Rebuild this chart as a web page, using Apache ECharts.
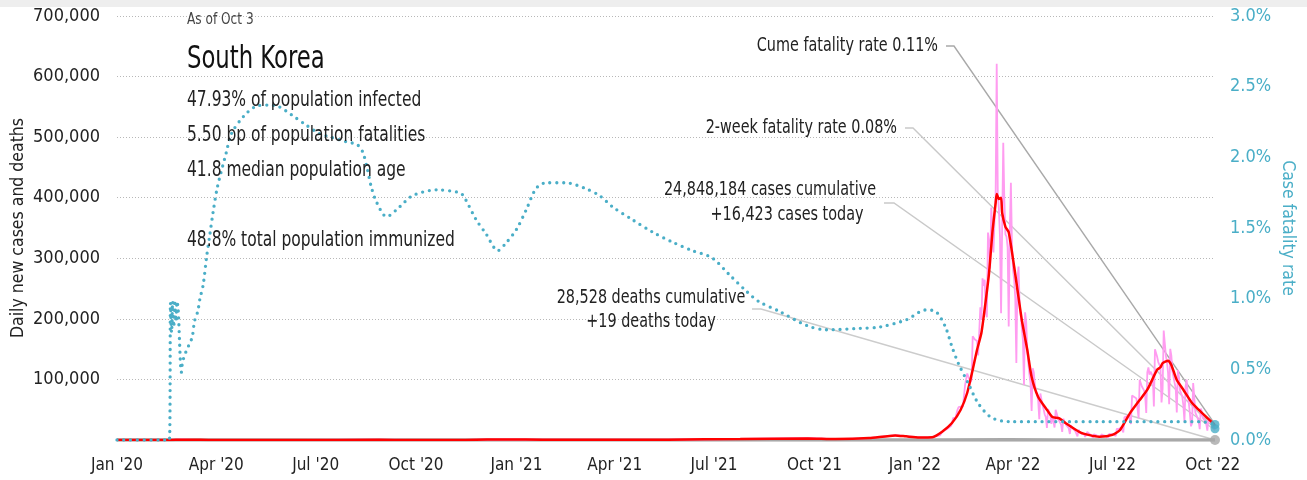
<!DOCTYPE html>
<html>
<head>
<meta charset="utf-8">
<script src="https://cdn.jsdelivr.net/npm/echarts@6/dist/echarts.min.js"></script>
<style>
  html, body { margin: 0; padding: 0; background: #ffffff; }
  #chart { width: 1307px; height: 480px; }
</style>
</head>
<body>
<div id="chart"></div>
<script>
// ---- Headline figures ----
const asOfText = 'As of Oct 3';
const countryName = 'South Korea';
const statLines = [
  '47.93% of population infected',
  '5.50 bp of population fatalities',
  '41.8 median population age'
];
const immunizedLine = '48.8% total population immunized';
const cumeFatalityRate = 0.11;     // %
const twoWeekFatalityRate = 0.08;  // %
const casesCumulative = 24848184;
const casesToday = 16423;
const deathsCumulative = 28528;
const deathsToday = 19;
const firstDate = '2020-01-01';
const lastDate = '2022-10-03';

// ---- Axis ticks ----
const xTickDates = ['2020-01-01','2020-04-01','2020-07-01','2020-10-01','2021-01-01','2021-04-01',
  '2021-07-01','2021-10-01','2022-01-01','2022-04-01','2022-07-01','2022-10-01'];
const xTickLabels = ["Jan '20","Apr '20","Jul '20","Oct '20","Jan '21","Apr '21",
  "Jul '21","Oct '21","Jan '22","Apr '22","Jul '22","Oct '22"];
const casesAxisMax = 700000, casesAxisStep = 100000;
const rateAxisMax = 3, rateAxisStep = 0.5;

// ---- Daily new cases: sparse readings before the Omicron wave ----
const dailyCasesEarly = [
  ['2020-01-01',0],['2020-02-18',0],['2020-03-01',800],['2020-03-12',110],['2020-04-10',30],
  ['2020-06-15',45],['2020-08-27',440],['2020-09-25',60],['2020-11-15',200],['2020-12-25',1240],
  ['2021-01-25',390],['2021-03-20',460],['2021-05-20',650],['2021-07-25',1630],['2021-09-25',3270],
  ['2021-10-20',1570],['2021-11-20',3200],['2021-12-14',7850],['2021-12-24',6230],['2022-01-05',4440],
  ['2022-01-17',4200]
];
// ---- Daily new cases, one value per day from 2022-01-20 ----
const dailyCasesStart = '2022-01-20';
const dailyCases2022 = [
  // Jan 20-31
  6603, 6767, 7009, 7630, 7513, 8571, 13012, 14518, 16096, 17542, 17529, 18342,
  // Feb
  20270, 20043, 22907, 27443, 36362, 38689, 35286, 36719, 49567, 54122, 53926, 54941, 53126, 54619,
  57177, 90443, 93135, 109831, 104829, 102211, 95362, 99573, 171452, 170016, 165890, 166209, 163565, 139626,
  // Mar
  138993, 219241, 198803, 266853, 254327, 264619, 210716, 202721, 342446, 327549, 282987, 383665, 350190,
  309790, 362338, 400741, 621328, 407017, 381454, 334708, 209169, 353980, 490881, 395598, 339514, 335580,
  318130, 187213, 347554, 424641, 320743,
  // Apr
  280273, 264171, 234301, 127190, 266135, 286294, 224820, 205333, 185566, 164481, 90928, 210755, 195419,
  148443, 125846, 107916, 93001, 47743, 118504, 111319, 90867, 81058, 75449, 64725, 34370, 76787, 76497,
  57464, 50568, 42140,
  // May
  37771, 20087, 51131, 49064, 42296, 26714, 40064, 38000, 20601, 49933, 43925, 35906, 32451, 29581, 25434,
  13296, 35117, 31323, 28130, 23956, 22575, 19298, 9975, 23947, 20914, 18454, 16581, 14426, 12530, 6141, 17191,
  // Jun
  13358, 12538, 9898, 12047, 9834, 5022, 7198, 13358, 12155, 10152, 9435, 7382, 3828, 9437, 9427, 7993,
  7206, 6068, 5357, 3570, 9296, 9914, 7498, 7220, 6789, 6243, 3423, 9894, 10463, 9528,
  // Jul
  10715, 10059, 9528, 6253, 18147, 19371, 18511, 19323, 20410, 20342, 12693, 37360, 40266, 39196, 38882,
  41310, 40342, 26299, 73589, 76402, 71170, 68632, 68551, 65433, 35883, 99327, 100285, 88384, 85285, 82002, 73589,
  // Aug
  44689, 111789, 119922, 107894, 112901, 110666, 105507, 55292, 149897, 151792, 137241, 128714, 124592,
  119922, 62078, 84128, 180803, 178574, 138812, 128714, 110423, 59046, 150503, 139339, 113371, 103961,
  94307, 85295, 45488, 115616, 103961,
  // Sep
  81573, 80441, 72139, 57309, 30967, 87559, 99837, 75640, 61038, 44054, 22606, 28213, 93981, 71476, 45313,
  43696, 36504, 31443, 17750, 51874, 46532, 35938, 32911, 30922, 26143, 15532, 36179, 37338, 30174, 27046,
  // Oct 1-3
  24104, 20875, 16423
];

// ---- 7-day average of new cases ----
const avgCases = [
  ['2020-01-01',0],['2020-02-18',0],['2020-03-01',560],['2020-03-10',350],['2020-03-25',100],
  ['2020-05-01',10],['2020-06-15',45],['2020-08-28',330],['2020-09-25',80],['2020-11-15',200],
  ['2020-12-25',1030],['2021-01-25',420],['2021-03-20',440],['2021-05-20',600],['2021-07-25',1550],
  ['2021-09-25',2600],['2021-10-20',1500],['2021-11-20',3100],['2021-12-14',7600],['2021-12-24',6000],
  ['2022-01-05',4200],['2022-01-17',4600],['2022-01-26',13700],['2022-02-04',28000],['2022-02-12',50000],
  ['2022-02-18',78000],['2022-02-23',116000],['2022-02-27',149000],['2022-03-03',177000],['2022-03-07',231000],
  ['2022-03-10',276000],['2022-03-13',342000],['2022-03-16',391000],['2022-03-17',406000],['2022-03-19',398000],
  ['2022-03-21',400000],['2022-03-22',375000],['2022-03-25',352000],['2022-03-28',343000],['2022-04-02',286000],
  ['2022-04-05',248000],['2022-04-09',198000],['2022-04-14',149000],['2022-04-18',104000],['2022-04-24',71000],
  ['2022-05-02',50000],['2022-05-07',38000],['2022-05-13',36000],['2022-05-19',28000],['2022-06-01',13000],
  ['2022-06-10',8000],['2022-06-19',5500],['2022-07-01',8500],['2022-07-08',16500],['2022-07-17',44000],
  ['2022-07-26',66000],['2022-08-02',83000],['2022-08-11',116000],['2022-08-14',120000],['2022-08-16',127000],
  ['2022-08-21',131000],['2022-08-24',124000],['2022-08-29',99000],['2022-09-04',83000],['2022-09-12',61000],
  ['2022-09-18',50000],['2022-09-25',38000],['2022-10-01',28000],['2022-10-03',23000]
];

// ---- 7-day average of deaths ----
const avgDeaths = [
  ['2020-01-01',0],['2020-03-20',6],['2020-09-05',4],['2020-12-28',25],['2021-03-01',8],['2021-07-01',2],
  ['2021-12-22',75],['2022-01-20',25],['2022-03-28',340],['2022-05-10',40],['2022-07-05',12],
  ['2022-08-28',70],['2022-10-02',25],['2022-10-03',19]
];

// ---- Cumulative case fatality rate, % ----
const fatalityRate = [
  ['2020-01-01',0],['2020-02-18',0],['2020-02-19',0.97],['2020-02-20',0.76],['2020-02-21',0.98],
  ['2020-02-22',0.80],['2020-02-23',0.99],['2020-02-24',0.84],['2020-02-25',0.98],['2020-02-26',0.93],
  ['2020-02-29',0.48],['2020-03-01',0.55],['2020-03-03',0.60],['2020-03-05',0.64],['2020-03-08',0.69],
  ['2020-03-10',0.73],['2020-03-12',0.84],['2020-03-15',0.91],['2020-03-17',1.00],['2020-03-20',1.10],
  ['2020-03-23',1.29],['2020-03-26',1.45],['2020-03-29',1.61],['2020-04-02',1.79],['2020-04-10',2.03],
  ['2020-04-15',2.17],['2020-04-26',2.29],['2020-05-07',2.36],['2020-05-19',2.37],['2020-05-28',2.36],
  ['2020-06-09',2.30],['2020-06-22',2.23],['2020-07-04',2.17],['2020-07-16',2.14],['2020-07-29',2.11],
  ['2020-08-08',2.09],['2020-08-13',2.04],['2020-08-17',1.93],['2020-08-21',1.79],['2020-08-26',1.68],
  ['2020-09-04',1.58],['2020-09-16',1.65],['2020-09-28',1.73],['2020-10-20',1.77],['2020-11-10',1.75],
  ['2020-11-14',1.72],['2020-11-25',1.56],['2020-12-04',1.46],['2020-12-15',1.34],['2020-12-22',1.39],
  ['2021-01-01',1.49],['2021-01-10',1.63],['2021-01-19',1.78],['2021-01-28',1.82],['2021-02-15',1.82],
  ['2021-03-05',1.78],['2021-03-18',1.73],['2021-03-30',1.65],['2021-04-17',1.56],['2021-05-06',1.47],
  ['2021-05-24',1.40],['2021-06-11',1.34],['2021-06-29',1.29],['2021-07-15',1.17],['2021-07-31',1.05],
  ['2021-08-11',0.98],['2021-08-30',0.91],['2021-09-24',0.81],['2021-10-12',0.78],['2021-11-11',0.79],
  ['2021-11-30',0.80],['2021-12-24',0.85],['2022-01-11',0.92],['2022-01-20',0.91],['2022-01-29',0.80],
  ['2022-02-04',0.66],['2022-02-10',0.54],['2022-02-19',0.40],['2022-02-28',0.26],['2022-03-12',0.16],
  ['2022-03-28',0.13],['2022-06-20',0.13],['2022-09-20',0.13],['2022-10-03',0.11]
];

// ---- Styling ----
const FONT = "'DejaVu Sans Condensed', 'DejaVu Sans', sans-serif";
const TEXT = '#222222';
const TEAL = '#4aaec7';
const GRID_L = 117, GRID_R = 92, GRID_T = 16, GRID_B = 40;

// local-time timestamp from YYYY-MM-DD
function ts(s) {
  const p = s.split('-').map(Number);
  return new Date(p[0], p[1] - 1, p[2]).getTime();
}
function addDays(s, n) {
  const p = s.split('-').map(Number);
  return new Date(p[0], p[1] - 1, p[2] + n).getTime();
}
const xTickTimes = xTickDates.map(ts);

const dailyCasesSeries = dailyCasesEarly.map(d => [ts(d[0]), d[1]])
  .concat(dailyCases2022.map((v, i) => [addDays(dailyCasesStart, i), v]));
const toPairs = arr => arr.map(d => [ts(d[0]), d[1]]);

const chart = echarts.init(document.getElementById('chart'), null, { renderer: 'canvas' });

chart.setOption({
  animation: false,
  backgroundColor: '#ffffff',
  textStyle: { fontFamily: FONT },
  grid: {
    left: GRID_L, right: GRID_R, top: GRID_T, bottom: GRID_B,
    containLabel: false, outerBoundsMode: 'none'
  },
  xAxis: {
    // dates as timestamps on a linear scale; labels sit on quarter starts
    type: 'value',
    min: ts(firstDate),
    max: ts(lastDate),
    axisLine: { show: false },
    axisTick: { show: false },
    splitLine: { show: false },
    axisLabel: {
      customValues: xTickTimes,
      margin: 17,
      fontSize: 17,
      color: TEXT,
      fontFamily: FONT,
      formatter: function (v) {
        for (let i = 0; i < xTickTimes.length; i++) {
          if (Math.abs(xTickTimes[i] - v) < 43200000) return xTickLabels[i];
        }
        return '';
      }
    }
  },
  yAxis: [
    {
      type: 'value',
      position: 'left',
      min: 0, max: casesAxisMax, interval: casesAxisStep,
      name: 'Daily new cases and deaths',
      nameLocation: 'middle',
      nameRotate: 90,
      nameGap: 90,
      nameMoveOverlap: false,
      nameTextStyle: { fontSize: 17.5, color: TEXT, fontFamily: FONT },
      axisLine: { show: false },
      axisTick: { show: false },
      axisLabel: {
        margin: 17, fontSize: 18, color: TEXT, fontFamily: FONT,
        formatter: v => v === 0 ? '' : v.toLocaleString('en-US')
      },
      splitLine: { show: true, lineStyle: { color: '#b8b8b8', width: 1, type: [1, 2] } }
    },
    {
      type: 'value',
      position: 'right',
      min: 0, max: rateAxisMax, interval: rateAxisStep,
      name: 'Case fatality rate',
      nameLocation: 'middle',
      nameRotate: -90,
      nameGap: 64,
      nameMoveOverlap: false,
      nameTextStyle: { fontSize: 17.5, color: TEAL, fontFamily: FONT },
      axisLine: { show: false },
      axisTick: { show: false },
      axisLabel: {
        margin: 15, fontSize: 18, color: TEAL, fontFamily: FONT,
        formatter: v => v.toFixed(1) + '%'
      },
      splitLine: { show: false }
    }
  ],
  series: [
    {
      name: 'Deaths',
      type: 'line', yAxisIndex: 0, z: 2,
      showSymbol: false, symbol: 'none',
      lineStyle: { color: '#a8a8a8', width: 3.5 },
      data: toPairs(avgDeaths)
    },
    {
      name: 'Daily new cases',
      type: 'line', yAxisIndex: 0, z: 3,
      showSymbol: false, symbol: 'none',
      lineStyle: { color: '#ff9cf0', width: 1.8 },
      data: dailyCasesSeries
    },
    {
      name: 'Cases 7-day average',
      type: 'line', yAxisIndex: 0, z: 4,
      showSymbol: false, symbol: 'none', smooth: 0.2,
      lineStyle: { color: '#ff0000', width: 2.5 },
      data: toPairs(avgCases)
    },
    {
      name: 'Case fatality rate',
      type: 'line', yAxisIndex: 1, z: 5,
      showSymbol: false, symbol: 'none', smooth: 0.3,
      lineStyle: { color: TEAL, width: 3.3, type: [0, 6.8], cap: 'round' },
      data: toPairs(fatalityRate)
    },
    {
      name: 'Fatality rate markers',
      type: 'scatter', yAxisIndex: 1, z: 6,
      symbol: 'circle', symbolSize: 9,
      itemStyle: { color: TEAL },
      data: [[ts(lastDate), cumeFatalityRate], [ts(lastDate), twoWeekFatalityRate]]
    },
    {
      name: 'Deaths marker',
      type: 'scatter', yAxisIndex: 0, z: 6,
      symbol: 'circle', symbolSize: 10,
      itemStyle: { color: '#a8a8a8' },
      data: [[ts(lastDate), deathsToday]]
    }
  ]
});

// ---- Text block and callouts ----
// condensed lettering: text is narrowed around its anchor point
function label(text, x, y, size, align, color, squeeze) {
  return {
    type: 'text', z: 20,
    x: x, y: y,
    scaleX: squeeze || 0.8, scaleY: 1,
    style: {
      text: text, x: 0, y: 0,
      fill: color || TEXT,
      fontSize: size, fontFamily: FONT,
      textAlign: align || 'left', align: align || 'left',
      textVerticalAlign: 'middle', verticalAlign: 'middle'
    }
  };
}
function connector(x0, y0, x1, end, color) {
  return {
    type: 'polyline', z: 1,
    shape: { points: [[x0, y0], [x1, y0], end] },
    style: { stroke: color, lineWidth: 1.4, fill: null }
  };
}

const endCume = chart.convertToPixel({ seriesIndex: 4 }, [ts(lastDate), cumeFatalityRate]);
const endTwoWeek = chart.convertToPixel({ seriesIndex: 4 }, [ts(lastDate), twoWeekFatalityRate]);
const endCases = chart.convertToPixel({ seriesIndex: 5 }, [ts(lastDate), casesToday]);
const endDeaths = chart.convertToPixel({ seriesIndex: 5 }, [ts(lastDate), deathsToday]);

const fmt = n => n.toLocaleString('en-US');

chart.setOption({
  graphic: [
    { type: 'rect', z: 0, shape: { x: 0, y: 0, width: 1307, height: 7 }, style: { fill: '#eeeeee' } },
    label(asOfText, 187, 20, 15, 'left', '#444444', 0.9),
    label(countryName, 187, 60, 32, 'left', '#111111', 0.79),
    label(statLines[0], 187, 101, 21, 'left', TEXT, 0.82),
    label(statLines[1], 187, 136, 21, 'left', TEXT, 0.82),
    label(statLines[2], 187, 171, 21, 'left', TEXT, 0.82),
    label(immunizedLine, 187, 241, 21, 'left', TEXT, 0.82),

    connector(946, 46, 954, endCume, '#a9a9a9'),
    label('Cume fatality rate ' + cumeFatalityRate.toFixed(2) + '%', 938, 46, 20, 'right'),

    connector(905, 128, 913, endTwoWeek, '#c9c9c9'),
    label('2-week fatality rate ' + twoWeekFatalityRate.toFixed(2) + '%', 897, 128, 20, 'right'),

    connector(884, 203, 894, endCases, '#c9c9c9'),
    label(fmt(casesCumulative) + ' cases cumulative', 770, 190, 20, 'center'),
    label('+' + fmt(casesToday) + ' cases today', 787, 215, 20, 'center'),

    connector(752, 309, 761, endDeaths, '#cccccc'),
    label(fmt(deathsCumulative) + ' deaths cumulative', 651, 298, 20, 'center'),
    label('+' + fmt(deathsToday) + ' deaths today', 651, 322, 20, 'center')
  ]
});
</script>
</body>
</html>
